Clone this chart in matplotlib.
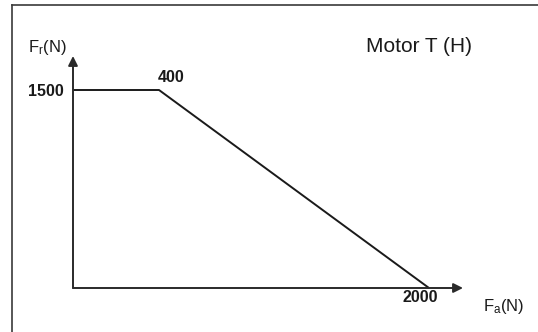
import numpy as np
import matplotlib
matplotlib.use("Agg")
import matplotlib.pyplot as plt
from matplotlib.lines import Line2D

# load curve: axial force (N) vs permitted radial force (N)
fa = [0, 400, 2000]
fr = [1500, 1500, 0]
fr_label = "1500"
fa_labels = ["400", "2000"]
title = "Motor T (H)"

plt.rcParams['font.family'] = ['Liberation Sans', 'DejaVu Sans']
plt.rcParams['mathtext.fontset'] = 'custom'
plt.rcParams['mathtext.rm'] = 'Liberation Sans'

W, H = 538, 332
fig = plt.figure(figsize=(W / 100, H / 100), dpi=100)
ax = fig.add_axes([0, 0, 1, 1])

# x axis is drawn piecewise: the 0..400 segment is stretched
kx = [-1000, 0, 400, 2000, 5000]
px = [-215.0, 0, 86, 356, 356 + 3000 * 270 / 1600]
fwd = lambda x: np.interp(x, kx, px)
inv = lambda p: np.interp(p, px, kx)
ax.set_xscale('function', functions=(fwd, inv))
ax.set_xlim(inv(-73), inv(W - 73))
sy = 198 / 1500
ax.set_ylim(-44 / sy, (H - 44) / sy)
ax.axis('off')

axc = '#2a2a2a'
# axes with arrow heads
ax.annotate('', xy=(inv(390), 0), xytext=(0, 0),
            arrowprops=dict(arrowstyle='-|>', color=axc, lw=1.4,
                            mutation_scale=14, shrinkA=0, shrinkB=0))
ax.annotate('', xy=(0, 232 / sy), xytext=(0, 0),
            arrowprops=dict(arrowstyle='-|>', color=axc, lw=1.4,
                            mutation_scale=14, shrinkA=0, shrinkB=0))

ax.plot(fa, fr, color='#1a1a1a', lw=1.4, solid_capstyle='butt')

bold = dict(fontsize=11.5, fontweight='bold', color='#1a1a1a')
ax.annotate(fr_label, xy=(0, fr[0]), xytext=(-9, -2), textcoords='offset pixels',
            ha='right', va='center', **bold)
ax.annotate(fa_labels[0], xy=(fa[1], fr[1]), xytext=(12, 13), textcoords='offset pixels',
            ha='center', va='center', **bold)
ax.annotate(fa_labels[1], xy=(fa[2], 0), xytext=(-9, -9), textcoords='offset pixels',
            ha='center', va='center', **bold)

ax.annotate(r'$\mathregular{F_r(N)}$', xy=(0, 0), xytext=(28, H - 52), textcoords='figure pixels',
            ha='left', va='baseline', fontsize=12, color='#1a1a1a')
ax.annotate(r'$\mathregular{F_a(N)}$', xy=(0, 0), xytext=(483, H - 311), textcoords='figure pixels',
            ha='left', va='baseline', fontsize=12, color='#1a1a1a')
fig.text(366 / W, 1 - 52 / H, title, ha='left', va='baseline', fontsize=15, color='#1a1a1a')

# frame (left and top edges)
fc = '#3a3a3a'
fig.add_artist(Line2D([12 / W, 12 / W], [0, 1 - 5 / H], color=fc, lw=1.2, transform=fig.transFigure))
fig.add_artist(Line2D([12 / W, 1], [1 - 5 / H, 1 - 5 / H], color=fc, lw=1.2, transform=fig.transFigure))

fig.savefig('out.png', dpi=100)
